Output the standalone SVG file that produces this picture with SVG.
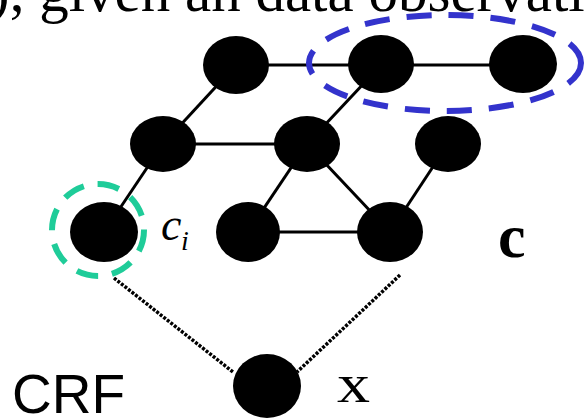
<svg xmlns="http://www.w3.org/2000/svg" width="584" height="419" viewBox="0 0 584 419">
  <style>
    .node { fill: #000; }
    .edge { stroke: #000; stroke-width: 3; fill: none; }
    .obs { stroke: #000; stroke-width: 3.5; stroke-dasharray: 3 1.5; fill: none; }
    .serif { font-family: "Liberation Serif", "Times New Roman", serif; fill: #000; }
    .sans { font-family: "Liberation Sans", Arial, sans-serif; fill: #000; }
  </style>
  <rect width="584" height="419" fill="#fff"/>

  <!-- caption line, cropped at the top edge -->
  <text class="serif" x="-10" y="11" font-size="59">), given an data observati</text>

  <!-- connectors -->
  <g id="connectors">
    <line class="edge" x1="236" y1="65" x2="381" y2="65"/>
    <line class="edge" x1="381" y1="65" x2="523" y2="65"/>
    <line class="edge" x1="236" y1="65" x2="163" y2="144"/>
    <line class="edge" x1="381" y1="65" x2="307" y2="144"/>
    <line class="edge" x1="163" y1="144" x2="307" y2="144"/>
    <line class="edge" x1="163" y1="144" x2="104" y2="232"/>
    <line class="edge" x1="307" y1="144" x2="248" y2="232"/>
    <line class="edge" x1="307" y1="144" x2="390" y2="232"/>
    <line class="edge" x1="448" y1="144" x2="390" y2="232"/>
    <line class="edge" x1="248" y1="232" x2="390" y2="232"/>
    <line class="obs" x1="114" y1="278" x2="233" y2="372"/>
    <line class="obs" x1="400" y1="275" x2="297" y2="372"/>
  </g>

  <!-- label nodes c -->
  <g id="n-top-1"><ellipse class="node" cx="236" cy="65" rx="33" ry="29"/></g>
  <g id="n-top-2"><ellipse class="node" cx="381" cy="64" rx="33" ry="29"/></g>
  <g id="n-top-3"><ellipse class="node" cx="523" cy="64" rx="34" ry="29"/></g>
  <g id="n-mid-1"><ellipse class="node" cx="163" cy="144" rx="33" ry="28"/></g>
  <g id="n-mid-2"><ellipse class="node" cx="307" cy="144" rx="33" ry="28"/></g>
  <g id="n-mid-3"><ellipse class="node" cx="448" cy="144" rx="33" ry="28"/></g>
  <g id="n-ci"><ellipse class="node" cx="104" cy="232" rx="34" ry="30"/></g>
  <g id="n-bot-2"><ellipse class="node" cx="248" cy="232" rx="32" ry="30"/></g>
  <g id="n-bot-3"><ellipse class="node" cx="390" cy="232" rx="33" ry="30"/></g>

  <!-- observation node x -->
  <g id="n-x"><ellipse class="node" cx="267" cy="386" rx="34" ry="32"/></g>

  <!-- highlight rings -->
  <g id="clique">
    <ellipse cx="445" cy="63" rx="136" ry="48" fill="none" stroke="#3333cc" stroke-width="6" stroke-dasharray="25 17"/>
  </g>
  <g id="site">
    <circle cx="98" cy="230" r="46" fill="none" stroke="#1fcc99" stroke-width="6" stroke-dasharray="22 14"/>
  </g>

  <!-- labels -->
  <text class="serif" x="161" y="240" font-size="46" font-style="italic">c</text>
  <text class="serif" x="181" y="250" font-size="28" font-style="italic">i</text>
  <text class="serif" x="498" y="257" font-size="62" font-weight="bold">c</text>
  <text class="serif" x="0" y="0" font-size="55" transform="translate(337 402) scale(1.2 1)">x</text>
  <text class="sans" x="12" y="413" font-size="55">CRF</text>
</svg>
